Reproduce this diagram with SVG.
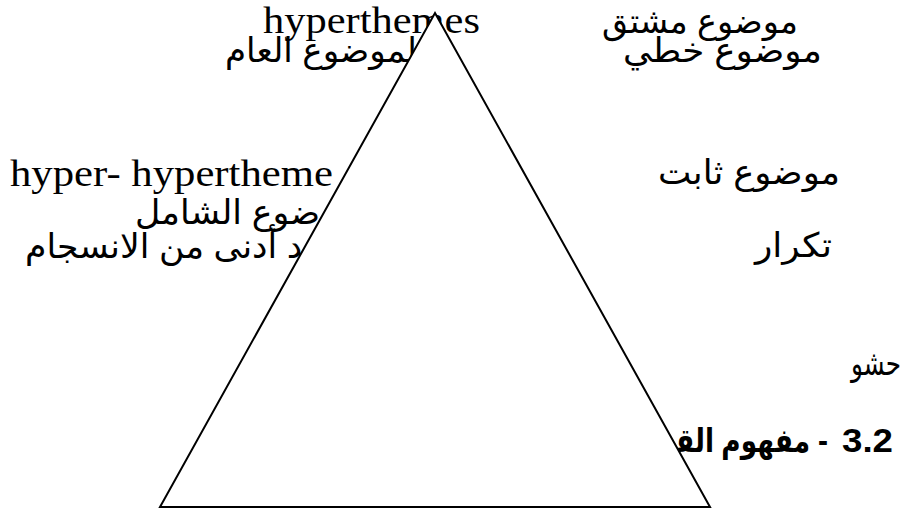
<svg xmlns="http://www.w3.org/2000/svg" width="908" height="513" viewBox="0 0 908 513">
<style>
.lat{font-family:"Liberation Serif","Times New Roman",serif;font-size:38px;fill:#000}
.ar{font-family:"Liberation Sans","DejaVu Sans",sans-serif;font-size:34px;fill:#000}
.hd{font-family:"Liberation Sans","DejaVu Sans",sans-serif;font-size:33px;font-weight:bold;fill:#000}
.tri{fill:#fff;stroke:#000;stroke-width:2;stroke-linejoin:miter}
</style>
<rect width="908" height="513" fill="#fff"/>
<g id="labels">
<text id="t1" class="lat" x="263" y="33" textLength="217" lengthAdjust="spacingAndGlyphs">hyperthemes</text>
<text id="t2" class="ar" x="602" y="33" textLength="196" lengthAdjust="spacingAndGlyphs">موضوع مشتق</text>
<text id="t3" class="ar" x="225" y="62" textLength="192" lengthAdjust="spacingAndGlyphs">لموضوع العام</text>
<text id="t4" class="ar" x="623" y="62" textLength="199" lengthAdjust="spacingAndGlyphs">موضوع خطي</text>
<text id="t5" class="lat" x="10" y="186" textLength="323" lengthAdjust="spacingAndGlyphs">hyper- hypertheme</text>
<text id="t6" class="ar" x="658" y="184" textLength="182" lengthAdjust="spacingAndGlyphs">موضوع ثابت</text>
<text id="t7" class="ar" x="135" y="224" textLength="185" lengthAdjust="spacingAndGlyphs">ضوع الشامل</text>
<text id="t8" class="ar" x="25" y="258" textLength="280" lengthAdjust="spacingAndGlyphs">&#x200D;د أدنى من الانسجام</text>
<text id="t9" class="ar" x="755" y="257" textLength="77" lengthAdjust="spacingAndGlyphs">تكرار</text>
<text id="t10" class="ar" x="851" y="375" textLength="50" lengthAdjust="spacingAndGlyphs">حشو</text>
<g id="t11">
<text class="hd" x="842" y="452" textLength="51" lengthAdjust="spacingAndGlyphs">3.2</text>
<text class="hd" x="818" y="452" textLength="10" lengthAdjust="spacingAndGlyphs">-</text>
<text class="hd" x="676" y="452" textLength="134" lengthAdjust="spacingAndGlyphs">مفهوم الق&#x200D;</text>
</g>
</g>
<g id="triangle">
<polygon class="tri" points="435,13 710,507 160,507"/>
</g>
</svg>
